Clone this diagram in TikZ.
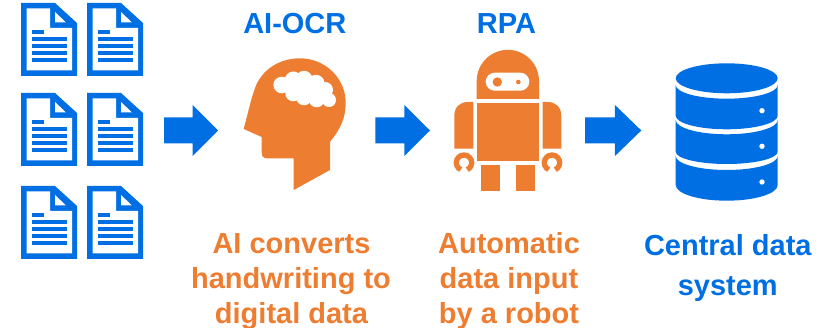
\documentclass[tikz,border=0pt]{standalone}
\usepackage{fontspec}
\setmainfont{Liberation Sans}
\definecolor{iblue}{HTML}{006FE3}
\definecolor{iorange}{HTML}{ED7D31}
\tikzset{
  x=1pt,y=-1pt,
  lab/.style={font=\bfseries\fontsize{29}{29}\selectfont,inner sep=0pt,anchor=base},
  blab/.style={lab,text=iblue},
  olab/.style={lab,text=iorange},
  docicon/.pic={
    \fill[iblue] (0,0) -- (34,0) -- (56,20) -- (56,73) -- (0,73) -- cycle;
    \fill[white] (5.5,5.5) -- (29,5.5) -- (29,25) -- (51,25) -- (51,67.5) -- (5.5,67.5) -- cycle;
    \fill[white] (34,9) -- (34,19.5) -- (45,19.5) -- cycle;
    \fill[iblue] (11,27) rectangle (23,31);
    \foreach \ly in {34,41.5,48.5,55.5}
      \fill[iblue] (11,\ly) rectangle (46,\ly+4);
  },
  flowarrow/.pic={
    \fill[iblue] (0,-13) -- (28.7,-13) -- (28.7,-25.5) -- (54,0) -- (28.7,25.5) -- (28.7,13) -- (0,13) -- cycle;
  }
}
\begin{document}
\begin{tikzpicture}
\useasboundingbox (0,0) rectangle (827,328);
% documents
\foreach \dx in {21,87}
  \foreach \dy in {3,93,186}
    \pic at (\dx,\dy) {docicon};
% arrows
\pic at (164,130.5) {flowarrow};
\pic[xscale=1.013] at (375.3,130.5) {flowarrow};
\pic[xscale=1.043] at (585,130.5) {flowarrow};
% head
\fill[iorange] (243.7,129) -- (261.7,137) -- (261.7,152)
  .. controls (261.7,156) and (263,158.3) .. (267,158.3)
  -- (293.7,158.3) -- (293.7,190) -- (330,170) -- (330,141.7)
  .. controls (340,130) and (345.7,118) .. (345.7,103)
  .. controls (345.7,78) and (325,58.3) .. (300,58.3)
  .. controls (280,58.3) and (262,69) .. (255,88)
  -- (251.7,98) -- cycle;
\foreach \cx/\cy/\cr in {281.7/85/8.3, 293.3/80/8.5, 304/79.3/8.5, 316/83.3/8.5, 325/90/8, 329/100/7, 316.7/99.3/8, 304/97.3/8, 293.3/93.3/8}
  \fill[white] (\cx,\cy) circle[radius=\cr];
\fill[white] (281.7,85) -- (293.3,80) -- (304,79.3) -- (316,83.3) -- (325,90) -- (329,100) -- (316.7,99.3) -- (304,97.3) -- (293.3,93.3) -- cycle;
% robot
\fill[iorange] (476.7,99) -- (476.7,81) arc[start angle=180,end angle=360,radius=31.15] -- (539,99) -- cycle;
\fill[white,rounded corners=9pt] (485.7,72.7) rectangle (529.3,90.7);
\fill[iorange] (497.3,82) circle[radius=4.7];
\fill[iorange] (518.3,82) circle[radius=2.3];
\fill[iorange] (476.7,102.7) rectangle (539,161.3);
\fill[iorange] (454.3,148.7) -- (454.3,116) .. controls (454.3,107) and (460,102) .. (468,102) -- (473.3,102) -- (473.3,148.7) -- cycle;
\fill[iorange] (561.3,148.7) -- (561.3,116) .. controls (561.3,107) and (555.6,102) .. (547.6,102) -- (542.7,102) -- (542.7,148.7) -- cycle;
\draw[iorange,line width=5.3pt] ([shift={(115:7.7)}]464,162.7) arc[start angle=115,end angle=425,radius=7.7];
\draw[iorange,line width=5.3pt] ([shift={(115:7.7)}]552,162.7) arc[start angle=115,end angle=425,radius=7.7];
\fill[iorange] (481,165) rectangle (500,191);
\fill[iorange] (516,165) rectangle (535,191);
% database
\fill[iblue] (726.7,78.3) ellipse[x radius=51,y radius=15];
\fill[iblue] (675.7,85) arc[start angle=180,end angle=0,x radius=51,y radius=13.7] -- (777.7,115.7) arc[start angle=0,end angle=180,x radius=51,y radius=13.6] -- cycle;
\fill[iblue] (675.7,120) arc[start angle=180,end angle=0,x radius=51,y radius=14.3] -- (777.7,151.7) arc[start angle=0,end angle=180,x radius=51,y radius=12.3] -- cycle;
\fill[iblue] (675.7,156) arc[start angle=180,end angle=0,x radius=51,y radius=14] -- (777.7,185) arc[start angle=0,end angle=180,x radius=51,y radius=15.7] -- cycle;
\foreach \ly in {110.7,146.3,182}
  \fill[white] (762,\ly) circle[radius=2.7];
% labels
\node[blab] (ocr) at (294.8,33.3) {AI-OCR};
\node[blab] (rpa) at (506.5,33.3) {RPA};
\node[olab] (a1) at (291.5,253.3) {AI converts};
\node[olab] (a2) at (291,288.3) {handwriting to};
\node[olab] (a3) at (291.5,323.3) {digital data};
\node[olab] (b1) at (509,253.3) {Automatic};
\node[olab] (b2) at (509,288.3) {data input};
\node[olab] (b3) at (509,323.3) {by a robot};
\node[blab] (c1) at (727.8,255.7) {Central data};
\node[blab] (c2) at (727.8,295.5) {system};
\end{tikzpicture}
\end{document}
